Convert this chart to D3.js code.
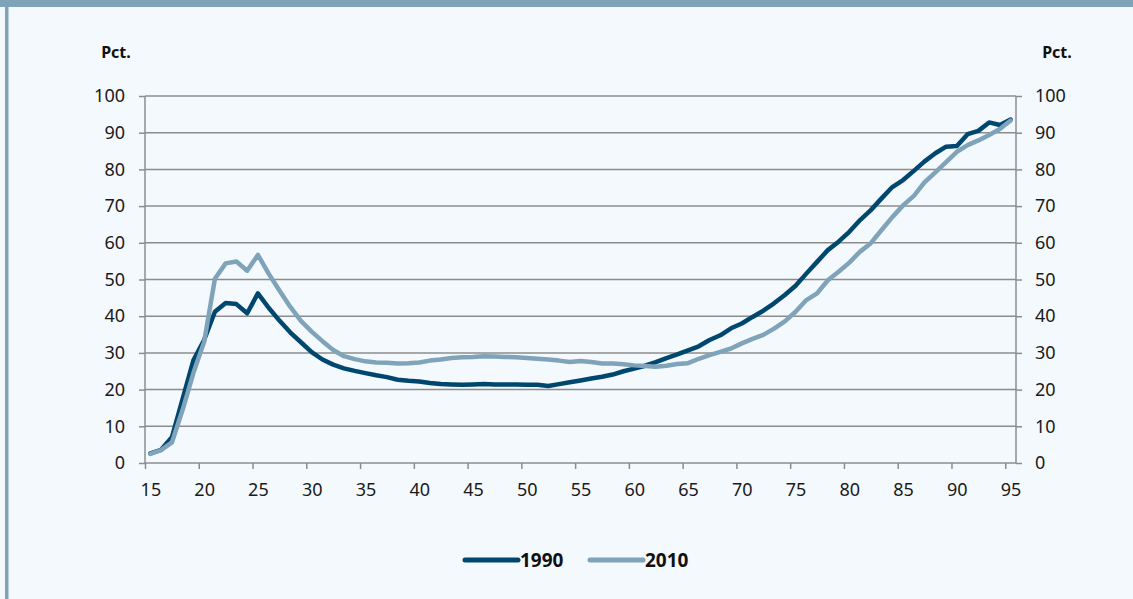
<!DOCTYPE html>
<html>
<head>
<meta charset="utf-8">
<script src="https://cdn.jsdelivr.net/npm/d3@7"></script>
<style>
  html, body { margin: 0; padding: 0; background: #f4f9fd; }
  #canvas { width: 1133px; height: 599px; overflow: hidden; }
  .axis text { font-family: "Noto Sans", sans-serif; font-size: 18px; fill: #1a1a1a; }
  .axis path, .axis line { stroke: #8c8c8c; stroke-width: 1.5; }
</style>
</head>
<body>
<div id="canvas"></div>
<script>
  // ages on the x axis, share (pct.) per age
  const ages = d3.range(15, 96);
  const y1990 = [2.6, 3.6, 7, 17.5, 28, 33.5, 41.2, 43.6, 43.3, 40.8,
    46.2, 42.3, 38.8, 35.6, 32.9, 30.2, 28.2, 26.8, 25.8, 25.1,
    24.5, 23.9, 23.4, 22.7, 22.4, 22.2, 21.8, 21.5, 21.4, 21.3,
    21.4, 21.5, 21.4, 21.4, 21.4, 21.3, 21.3, 21.0, 21.5, 22.0,
    22.5, 23.0, 23.5, 24.1, 25.0, 25.7, 26.5, 27.5, 28.6, 29.6,
    30.7, 31.8, 33.5, 34.8, 36.7, 38.0, 39.8, 41.5, 43.5, 45.8,
    48.3, 51.6, 54.8, 58.0, 60.3, 63.0, 66.2, 68.9, 72.1, 75.2,
    77.1, 79.6, 82.2, 84.4, 86.2, 86.4, 89.6, 90.5, 92.8, 92.1, 93.6];
  const y2010 = [2.5, 3.5, 5.6, 14.5, 24.5, 33, 50.2, 54.4, 54.9, 52.4,
    56.7, 51.6, 47.0, 42.6, 38.7, 35.8, 33.2, 30.8, 29.1, 28.3,
    27.7, 27.4, 27.3, 27.1, 27.2, 27.4, 27.9, 28.2, 28.6, 28.8,
    28.9, 29.1, 29.0, 28.9, 28.8, 28.6, 28.4, 28.2, 27.9, 27.5,
    27.8, 27.5, 27.1, 27.1, 26.9, 26.6, 26.4, 26.2, 26.5, 27.0,
    27.2, 28.4, 29.4, 30.3, 31.2, 32.6, 33.8, 34.9, 36.6, 38.6,
    41.2, 44.4, 46.2, 49.8, 52.1, 54.6, 57.6, 59.9, 63.5, 67.0,
    70.2, 72.8, 76.5, 79.2, 82.0, 84.8, 86.6, 87.9, 89.4, 91.0, 93.3];
  const xLabels = [15, 20, 25, 30, 35, 40, 45, 50, 55, 60, 65, 70, 75, 80, 85, 90, 95];
  const yTicks = [0, 10, 20, 30, 40, 50, 60, 70, 80, 90, 100];
  const seriesNames = ["1990", "2010"];
  const colors = ["#00476f", "#7fa3b8"];

  const w = 1133;
  const h = 599;
  const margin = {
    top: 96,
    bottom: 136,
    left: 145,
    right: 117
  }
  const width = w - (margin.left + margin.right);
  const height = h - (margin.top + margin.bottom);

  const canvas = d3.select("#canvas")
                .append("svg")
                .attr("width", w)
                .attr("height", h)

  // frame: top band and left border
  canvas.append("rect").attr("x", 0).attr("y", 0).attr("width", w).attr("height", 7).attr("fill", "#7fa3b8")
  canvas.append("rect").attr("x", 5).attr("y", 0).attr("width", 3.5).attr("height", h).attr("fill", "#7fa3b8")

  const x = d3.scaleLinear().domain([14.5, 95.5]).range([0, width]);
  const y = d3.scaleLinear().domain([0, 100]).range([height, 0]);

  const g = canvas.append("g").attr("transform", `translate(${margin.left},${margin.top})`)

  // gridlines
  g.selectAll(".grid")
    .data(yTicks.slice(1))
    .enter()
    .append("line")
    .attr("x1", 0).attr("x2", width)
    .attr("y1", d => y(d)).attr("y2", d => y(d))
    .attr("stroke", "#8c8c8c")
    .attr("stroke-width", 1.5)

  // left axis
  g.append("g").attr("class", "axis")
    .call(d3.axisLeft(y).tickValues(yTicks).tickSize(6).tickPadding(14))
    .call(a => a.select(".domain").attr("d", `M0,${height}V0`))
  // right axis
  g.append("g").attr("class", "axis")
    .attr("transform", `translate(${width},0)`)
    .call(d3.axisRight(y).tickValues(yTicks).tickSize(6).tickPadding(13))
    .call(a => a.select(".domain").attr("d", `M0,${height}V0`))
    .call(a => a.selectAll("text").attr("text-anchor", "start"))

  // bottom axis: ticks between categories, labels at categories
  const bounds = xLabels.map(d => d - 0.5);
  g.append("g").attr("class", "axis")
    .attr("transform", `translate(0,${height})`)
    .call(d3.axisBottom(x).tickValues(bounds).tickSize(6).tickFormat(""))
    .call(a => a.select(".domain").attr("d", `M0,0H${width}`))
  g.append("g").attr("class", "axis")
    .attr("transform", `translate(0,${height})`)
    .call(d3.axisBottom(x).tickValues(xLabels).tickSize(0).tickPadding(20))
    .call(a => a.select(".domain").remove())

  // axis units
  canvas.append("text").attr("x", 116).attr("y", 58).attr("text-anchor", "middle")
    .attr("font-family", "Noto Sans, sans-serif").attr("font-size", 16).attr("font-weight", "bold")
    .attr("fill", "#111").text("Pct.")
  canvas.append("text").attr("x", 1057).attr("y", 58).attr("text-anchor", "middle")
    .attr("font-family", "Noto Sans, sans-serif").attr("font-size", 16).attr("font-weight", "bold")
    .attr("fill", "#111").text("Pct.")

  // lines
  const line = d3.line()
    .x((d, i) => x(ages[i]))
    .y(d => y(d))

  const series = [y1990, y2010];
  g.selectAll(".series")
    .data(series)
    .enter()
    .append("path")
    .attr("d", line)
    .attr("fill", "none")
    .attr("stroke", (d, i) => colors[i])
    .attr("stroke-width", 4.5)
    .attr("stroke-linejoin", "round")
    .attr("stroke-linecap", "round")

  // legend
  const legend = canvas.append("g").attr("transform", "translate(465,560)")
  const items = legend.selectAll("g")
    .data(seriesNames)
    .enter()
    .append("g")
    .attr("transform", (d, i) => `translate(${i * 125},0)`)
  items.append("line")
    .attr("x1", 0).attr("x2", 53)
    .attr("stroke", (d, i) => colors[i])
    .attr("stroke-width", 5)
    .attr("stroke-linecap", "round")
  items.append("text")
    .attr("x", 55).attr("y", 7)
    .attr("font-family", "Noto Sans, sans-serif")
    .attr("font-size", 19)
    .attr("font-weight", "bold")
    .attr("fill", "#111")
    .text(d => d)
</script>
</body>
</html>
